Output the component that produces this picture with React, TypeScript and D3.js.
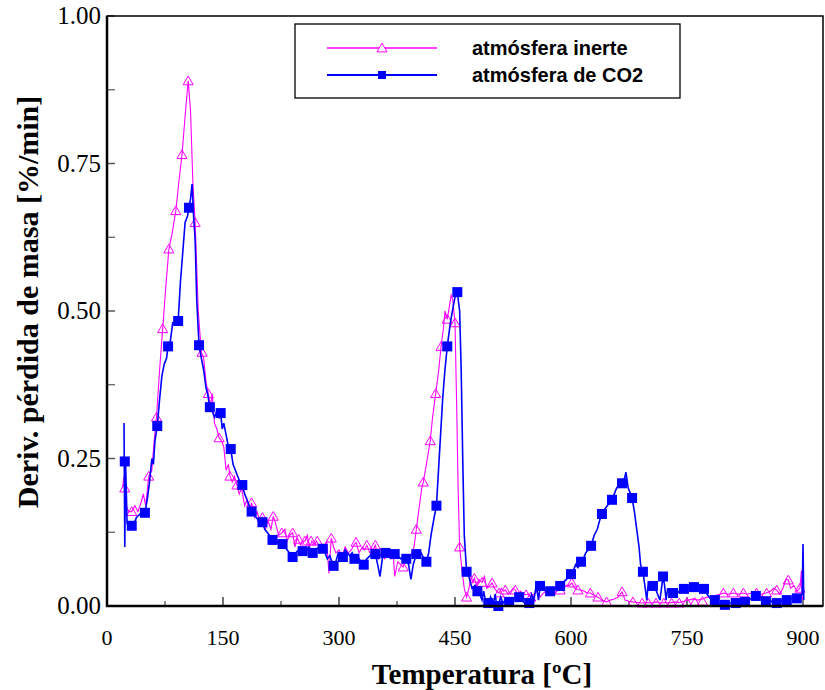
import React from "react";
import * as d3 from "d3";

const inerteLine: [number, number][] = [
  [20,0.20],[22,0.22],[25,0.17],[28,0.16],[32,0.16],[36,0.17],[40,0.16],[44,0.175],[47,0.19],[50,0.17],[54,0.22],[58,0.23],[61,0.28],[64,0.32],[68,0.40],[72,0.47],[76,0.54],[80,0.605],[84,0.63],[89,0.67],[93,0.72],[97,0.765],[101,0.83],[105,0.89],[108,0.84],[111,0.72],[114,0.65],[118,0.50],[122,0.43],[125,0.42],[128,0.38],[131,0.36],[134,0.34],[136,0.36],[139,0.31],[142,0.30],[145,0.285],[148,0.28],[151,0.27],[154,0.23],[157,0.24],[159,0.22],[162,0.21],[165,0.22],[168,0.205],[171,0.19],[174,0.20],[178,0.17],[181,0.18],[184,0.16],[187,0.175],[191,0.15],[194,0.16],[198,0.14],[201,0.15],[205,0.13],[208,0.145],[212,0.13],[215,0.152],[218,0.14],[222,0.12],[226,0.124],[230,0.13],[233,0.11],[236,0.12],[240,0.124],[243,0.10],[246,0.115],[250,0.105],[253,0.11],
  [256,0.11],[259,0.12],[262,0.10],[265,0.11],[268,0.105],[271,0.11],[274,0.10],[277,0.105],[280,0.10],[284,0.11],[287,0.055],[290,0.115],[293,0.10],[296,0.09],[300,0.095],[304,0.085],[308,0.10],[312,0.09],[316,0.095],[320,0.105],[322,0.108],[326,0.09],[330,0.10],[333,0.095],[336,0.103],[340,0.09],[344,0.095],[347,0.103],[351,0.08],[355,0.09],[359,0.08],[363,0.085],[367,0.08],[370,0.09],[372,0.05],[376,0.075],[380,0.07],[383,0.066],[386,0.08],[390,0.07],[394,0.09],[397,0.10],[400,0.13],[404,0.17],[407,0.20],[409,0.21],[413,0.24],[418,0.28],[421,0.32],[425,0.36],[429,0.40],[432,0.44],[435,0.47],[437,0.50],[440,0.486],[443,0.51],[445,0.527],[447,0.52],[450,0.48],[452,0.35],[454,0.20],[456,0.10],[459,0.06],[462,0.03],[465,0.015],[468,0.03],[471,0.05],[473,0.04],[475,0.047],[478,0.035],[481,0.045],[485,0.04],[488,0.05],[491,0.03],[495,0.035],[498,0.039],[501,0.03],[504,0.025],[507,0.022],[510,0.03],[513,0.025],[515,0.027],[519,0.02],[522,0.025],[525,0.03],[528,0.027],[531,0.02],[535,0.025],[538,0.02],[542,0.019],[545,0.02],[548,0.015],[552,0.02],[556,0.025],[560,0.015],[563,0.02],[567,0.025],[572,0.02],[576,0.018],[581,0.025],[586,0.027],[590,0.03],[594,0.035],[598,0.035],[601,0.039],[605,0.03],[609,0.028],[613,0.027],[617,0.025],[621,0.022],[625,0.022],[630,0.018],[635,0.015],[640,0.01],[646,0.007],[651,0.01],[656,0.012],[661,0.015],[666,0.024],[670,0.01],[675,0.008],[680,0.007],[686,0.006],[692,0.005],[698,0.006],[704,0.005],[710,0.007],[716,0.005],[722,0.006],[728,0.005],[734,0.007],[740,0.006],[746,0.008],[752,0.01],[758,0.012],[764,0.01],[770,0.012],[776,0.015],[782,0.015],[788,0.018],[793,0.02],[797,0.022],[803,0.02],[810,0.022],[816,0.02],[822,0.022],[828,0.02],[834,0.022],[840,0.022],[846,0.02],[852,0.022],[858,0.025],[862,0.03],[866,0.027],[870,0.02],[874,0.03],[878,0.045],[881,0.044],[884,0.03],[888,0.035],[892,0.025],[896,0.03],[898,0.06],[899,0.01]
];

const inerteMarkers: [number, number][] = [
  [23,0.20],[32,0.16],[54,0.22],[64,0.32],[72,0.47],[80,0.605],[89,0.67],[97,0.765],[105,0.89],[114,0.65],[123,0.43],[131,0.36],[145,0.285],[159,0.22],[168,0.205],[187,0.175],[201,0.15],[215,0.152],[226,0.124],[240,0.124],[248,0.113],[256,0.11],[264,0.11],[272,0.11],[290,0.115],[322,0.108],[336,0.103],[347,0.103],[383,0.066],[400,0.13],[409,0.21],[418,0.28],[425,0.36],[432,0.44],[440,0.486],[450,0.48],[456,0.10],[465,0.015],[475,0.047],[485,0.04],[498,0.039],[507,0.022],[515,0.027],[528,0.027],[542,0.019],[548,0.015],[586,0.027],[601,0.039],[609,0.027],[625,0.022],[635,0.015],[646,0.007],[666,0.024],[680,0.007],[692,0.005],[700,0.005],[710,0.005],[720,0.005],[730,0.005],[740,0.005],[750,0.006],[760,0.006],[770,0.008],[797,0.022],[810,0.022],[823,0.022],[840,0.022],[853,0.022],[866,0.027],[881,0.044],[896,0.03]
];

const co2Line: [number, number][] = [
  [22,0.31],[23,0.10],[24,0.245],[26,0.14],[30,0.136],[34,0.135],[38,0.15],[42,0.155],[46,0.16],[49,0.158],[52,0.18],[55,0.21],[58,0.25],[60,0.24],[62,0.28],[65,0.305],[68,0.35],[71,0.39],[74,0.41],[77,0.42],[79,0.44],[82,0.45],[85,0.48],[88,0.48],[92,0.483],[95,0.55],[98,0.60],[101,0.65],[104,0.66],[106,0.675],[108,0.69],[110,0.715],[112,0.66],[114,0.62],[116,0.52],[119,0.442],[122,0.42],[125,0.40],[128,0.37],[130,0.36],[133,0.337],[136,0.33],[139,0.32],[142,0.33],[145,0.32],[147,0.327],[149,0.30],[151,0.31],[154,0.29],[157,0.27],[160,0.266],[163,0.24],[166,0.23],[169,0.22],[172,0.21],[175,0.205],[178,0.19],[181,0.18],[184,0.17],[187,0.16],[190,0.155],[193,0.15],[196,0.145],[199,0.14],[201,0.142],[204,0.13],[207,0.125],[210,0.12],[214,0.112],[217,0.115],[220,0.11],[224,0.10],[227,0.105],[230,0.10],[233,0.095],[236,0.09],[240,0.083],[244,0.09],[248,0.095],[253,0.093],[257,0.09],[261,0.10],[266,0.09],[270,0.095],[274,0.10],[279,0.097],[282,0.09],[285,0.08],[288,0.085],[293,0.068],[296,0.075],[299,0.09],[302,0.085],[305,0.083],[308,0.095],[311,0.09],[314,0.085],[317,0.09],[320,0.08],[324,0.085],[328,0.075],[332,0.07],[336,0.08],[340,0.085],[343,0.09],[347,0.088],[350,0.07],[353,0.05],[356,0.08],[359,0.09],[363,0.085],[367,0.09],[372,0.088],[376,0.085],[380,0.08],[384,0.085],[387,0.08],[390,0.07],[393,0.045],[396,0.07],[400,0.088],[403,0.085],[406,0.09],[410,0.08],[413,0.075],[416,0.09],[419,0.12],[423,0.15],[426,0.17],[430,0.26],[434,0.35],[437,0.40],[440,0.44],[444,0.48],[448,0.51],[451,0.53],[453,0.532],[456,0.50],[458,0.40],[460,0.25],[462,0.12],[465,0.058],[468,0.05],[472,0.03],[476,0.035],[479,0.025],[482,0.02],[485,0.01],[487,0.025],[490,0.005],[493,0.005],[496,0.015],[499,0.0],[502,0.02],[504,0.0],[506,0.0],[509,0.015],[512,0.005],[515,0.01],[520,0.007],[524,0.01],[528,0.015],[533,0.015],[536,0.01],[540,0.005],[546,0.005],[549,0.02],[552,0.01],[555,0.035],[558,0.01],[560,0.034],[564,0.03],[568,0.025],[573,0.025],[577,0.03],[581,0.03],[586,0.034],[590,0.04],[594,0.045],[597,0.05],[600,0.054],[603,0.06],[606,0.07],[609,0.065],[613,0.075],[616,0.08],[619,0.09],[622,0.095],[626,0.102],[630,0.12],[634,0.13],[637,0.145],[640,0.156],[644,0.165],[647,0.17],[650,0.175],[653,0.18],[656,0.19],[659,0.20],[662,0.205],[666,0.208],[669,0.215],[671,0.227],[674,0.20],[677,0.19],[679,0.183],[682,0.16],[685,0.13],[688,0.10],[690,0.07],[693,0.058],[696,0.03],[698,0.01],[700,0.04],[703,0.035],[706,0.034],[709,0.03],[712,0.02],[715,0.01],[718,0.04],[719,0.05],[721,0.035],[723,0.01],[725,0.03],[728,0.02],[732,0.022],[736,0.02],[740,0.025],[746,0.029],[750,0.03],[754,0.032],[759,0.032],[763,0.03],[767,0.03],[772,0.029],[776,0.02],[779,0.015],[782,0.01],[786,0.01],[790,0.005],[795,0.003],[799,0.002],[803,0.005],[808,0.005],[813,0.005],[818,0.006],[825,0.007],[830,0.01],[835,0.015],[839,0.017],[843,0.012],[847,0.015],[852,0.008],[857,0.01],[861,0.006],[866,0.005],[870,0.008],[875,0.01],[879,0.01],[883,0.012],[888,0.013],[892,0.013],[896,0.015],[899,0.02],[900,0.105],[901,0.01]
];

const co2Markers: [number, number][] = [
  [23,0.245],[32,0.136],[49,0.158],[65,0.305],[79,0.44],[92,0.483],[106,0.675],[119,0.442],[133,0.337],[147,0.327],[160,0.266],[175,0.205],[187,0.16],[201,0.142],[214,0.112],[227,0.105],[240,0.083],[253,0.093],[266,0.09],[279,0.097],[293,0.068],[305,0.083],[320,0.08],[332,0.07],[347,0.088],[360,0.09],[372,0.088],[387,0.08],[400,0.088],[413,0.075],[426,0.17],[440,0.44],[453,0.532],[465,0.058],[479,0.025],[493,0.005],[506,0.0],[520,0.007],[533,0.015],[546,0.005],[560,0.034],[573,0.025],[586,0.034],[600,0.054],[613,0.075],[626,0.102],[640,0.156],[653,0.18],[666,0.208],[679,0.183],[693,0.058],[706,0.034],[719,0.05],[732,0.022],[746,0.029],[759,0.032],[772,0.029],[786,0.01],[799,0.002],[813,0.005],[825,0.007],[839,0.017],[852,0.008],[866,0.005],[879,0.01],[892,0.013]
];

const xTicks = [0, 150, 300, 450, 600, 750, 900];
const xMinorTicks = [75, 225, 375, 525, 675, 825];
const yTicks = [0, 0.25, 0.5, 0.75, 1.0];
const yMinorTicks = [0.125, 0.375, 0.625, 0.875];
const seriesNames = ["atmósfera inerte", "atmósfera de CO2"];
const xTitle = "Temperatura [ºC]";
const yTitle = "Deriv. pérdida de masa [%/min]";

const PINK = "#FF00FF";
const BLUE = "#0000FF";
const SERIF = "'Liberation Serif', 'Times New Roman', serif";
const SANS = "'Liberation Sans', Arial, sans-serif";

export default function App() {
  const W = 825, H = 690;
  const left = 107, right = 823, top = 16, bottom = 606;
  const x = d3.scaleLinear().domain([0, 900]).range([left, 803]);
  const y = d3.scaleLinear().domain([0, 1]).range([bottom, top]);
  const line = d3.line<[number, number]>().x(d => x(d[0])).y(d => y(d[1]));
  const tri = d3.symbol().type(d3.symbolTriangle).size(44)();

  return (
    <svg width={W} height={H} style={{ position: "absolute", left: 0, top: 0, background: "#fff" }}>
      <rect x={0} y={0} width={W} height={H} fill="#fff" />
      {yTicks.map(t => (
        <line key={"yt" + t} x1={left} x2={left + 8} y1={y(t)} y2={y(t)} stroke="#555" strokeWidth={1.5} />
      ))}
      {yMinorTicks.map(t => (
        <line key={"ym" + t} x1={left} x2={left + 8} y1={y(t)} y2={y(t)} stroke="#555" strokeWidth={1.2} />
      ))}
      {xTicks.map(t => (
        <line key={"xt" + t} x1={x(t)} x2={x(t)} y1={bottom} y2={bottom - 9} stroke="#444" strokeWidth={1.5} />
      ))}
      {xMinorTicks.map(t => (
        <line key={"xm" + t} x1={x(t)} x2={x(t)} y1={bottom} y2={bottom - 5} stroke="#444" strokeWidth={1.2} />
      ))}
      <path d={line(inerteLine) || ""} fill="none" stroke={PINK} strokeWidth={1.1} />
      {inerteMarkers.map((d, i) => (
        <path key={"im" + i} d={tri} transform={`translate(${x(d[0])},${y(d[1]) + 1})`} fill="none" stroke={PINK} strokeWidth={1} />
      ))}
      <path d={line(co2Line) || ""} fill="none" stroke={BLUE} strokeWidth={1.6} />
      {co2Markers.map((d, i) => (
        <rect key={"cm" + i} x={x(d[0]) - 5} y={y(d[1]) - 5} width={10} height={10} fill={BLUE} />
      ))}
      <rect x={left} y={top} width={right - left} height={bottom - top} fill="none" stroke="#000" strokeWidth={1.5} />
      <line x1={left} x2={left} y1={top} y2={bottom + 1} stroke="#000" strokeWidth={2.5} />
      <line x1={left - 1} x2={right} y1={bottom} y2={bottom} stroke="#000" strokeWidth={2.5} />
      {yTicks.map(t => (
        <text key={"yl" + t} x={101} y={y(t) + 8} textAnchor="end" fontFamily={SERIF} fontSize={25}>{t.toFixed(2)}</text>
      ))}
      {xTicks.map(t => (
        <text key={"xl" + t} x={x(t)} y={645} textAnchor="middle" fontFamily={SERIF} fontSize={22}>{t}</text>
      ))}
      <text x={482} y={684} textAnchor="middle" fontFamily={SERIF} fontWeight="bold" fontSize={29}>{xTitle}</text>
      <text transform="translate(38,302) rotate(-90)" textAnchor="middle" fontFamily={SERIF} fontWeight="bold" fontSize={30}>{yTitle}</text>
      <rect x={295} y={24} width={385} height={74} fill="#fff" stroke="#000" strokeWidth={1.3} />
      <line x1={327} x2={437} y1={48} y2={48} stroke={PINK} strokeWidth={1.3} />
      <path d={tri} transform="translate(382,49)" fill="#fff" stroke={PINK} strokeWidth={1} />
      <line x1={327} x2={437} y1={75} y2={75} stroke={BLUE} strokeWidth={2} />
      <rect x={378} y={71} width={8} height={8} fill={BLUE} />
      <text x={472} y={55} fontFamily={SANS} fontWeight="bold" fontSize={20}>{seriesNames[0]}</text>
      <text x={472} y={82} fontFamily={SANS} fontWeight="bold" fontSize={20}>{seriesNames[1]}</text>
    </svg>
  );
}
